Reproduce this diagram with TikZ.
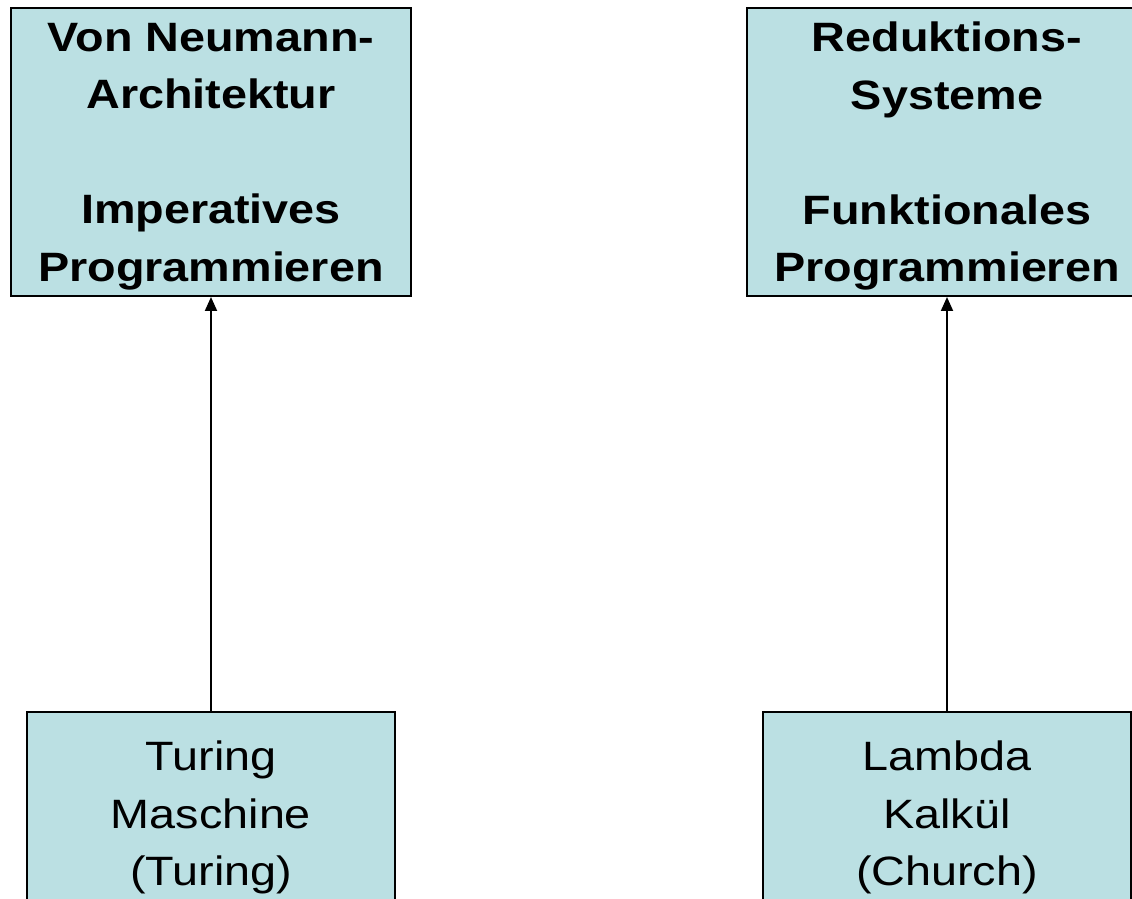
\documentclass[tikz,border=0pt]{standalone}
\usepackage{fontspec}
\setmainfont{Liberation Sans}
\newfontfamily\boxfont[FakeStretch=1.14]{Liberation Sans}
\usepackage{xcolor}
\usetikzlibrary{arrows.meta,positioning}
\definecolor{boxcyan}{RGB}{187,224,227}
\tikzset{box/.style={draw,line width=1pt,fill=boxcyan,align=center,text depth=0pt,inner sep=0pt,
  font=\boxfont\fontsize{20.5pt}{28.75pt}\selectfont},
  topbox/.style={box,minimum width=200pt,minimum height=144pt,font=\boxfont\bfseries\fontsize{20.5pt}{28.75pt}\selectfont},
  basebox/.style={box,minimum width=184pt,minimum height=101.5pt}}

\begin{document}
\begin{tikzpicture}[x=0.5pt,y=0.5pt,>={Triangle[length=7pt,width=6pt]}]
\useasboundingbox(0,0)rectangle(1132,-899);
\node[topbox](vn)at(211,-152){Von Neumann-\\Architektur\\[28.75pt]Imperatives\\Programmieren};
\node[topbox](red)at(947,-152){Reduktions-\\Systeme\\[28.75pt]Funktionales\\Programmieren};
\node[basebox](tm)at(211,-813.5){Turing\\Maschine\\(Turing)};
\node[basebox](lk)at(947,-813.5){Lambda\\Kalk\"ul\\(Church)};
\draw[->,line width=1pt](tm)--(vn);
\draw[->,line width=1pt](lk)--(red);
\end{tikzpicture}
\end{document}
